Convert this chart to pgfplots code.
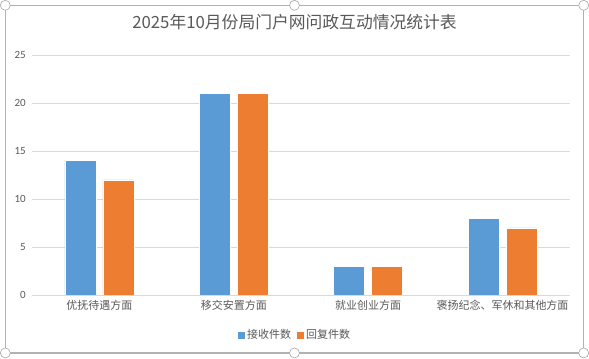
\documentclass[border=0pt]{standalone}
\usepackage{pgfplots}
\pgfplotsset{compat=1.18}
\usepackage{fontspec}
\setmainfont{Carlito}
\newfontfamily\cjk{Noto Sans CJK SC}
\definecolor{cblue}{HTML}{5B9BD5}
\definecolor{corange}{HTML}{ED7D31}
\definecolor{txt}{HTML}{595959}
\definecolor{gridc}{HTML}{D9D9D9}
\begin{document}
\begin{tikzpicture}[x=1pt,y=1pt]
\path (0,0) rectangle (589,355);
\draw[color=gray!60, line width=1.2pt] (5,4) rectangle (584,352);
\foreach \p in {(5,4),(5,352),(584,4),(584,352),(294.5,4),(294.5,352)}{
  \fill[white] \p circle (5); \draw[gray!70, line width=0.6pt] \p circle (5);
}
\node[text=txt, font=\cjk\fontsize{16.8}{16.8}\selectfont] at (294.5,335) {2025年10月份局门户网问政互动情况统计表};
\begin{axis}[
  at={(32pt,62pt)}, anchor=south west,
  scale only axis, width=538pt, height=240pt,
  ybar=7pt, bar width=31pt,
  xmin=-0.5, xmax=3.5, ymin=0, ymax=25,
  xtick=data,
  xticklabels={优抚待遇方面,移交安置方面,就业创业方面,褒扬纪念、军休和其他方面},
  xticklabel style={font=\cjk\fontsize{11}{11}\selectfont, text=txt},
  ytick={0,5,...,25},
  yticklabel style={font=\fontsize{11}{11}\selectfont, text=txt},
  yticklabel shift=3pt,
  /pgf/number format/assume math mode=true,
  ymajorgrids=true, xmajorgrids=false,
  major grid style={draw=gridc, line width=0.8pt},
  axis x line*=bottom, axis y line*=left,
  x axis line style={draw=gridc, line width=0.8pt},
  y axis line style={draw=none},
  major tick length=0pt,
  tick style={draw=none},
  xticklabel shift=2pt,
  legend style={at={(0.489,-0.167)}, anchor=center, draw=none, legend columns=2,
    font=\cjk\fontsize{11}{11}\selectfont, text=txt,
    /tikz/every even column/.append style={column sep=4pt}},
  legend image code/.code={\fill[#1, draw=none] (0pt,-3.5pt) rectangle (7pt,3.5pt);},
]
\addplot[fill=cblue, draw=white, line width=0.6pt] coordinates {(0,14) (1,21) (2,3) (3,8)};
\addplot[fill=corange, draw=white, line width=0.6pt] coordinates {(0,12) (1,21) (2,3) (3,7)};
\legend{接收件数,回复件数}
\end{axis}
\end{tikzpicture}
\end{document}
